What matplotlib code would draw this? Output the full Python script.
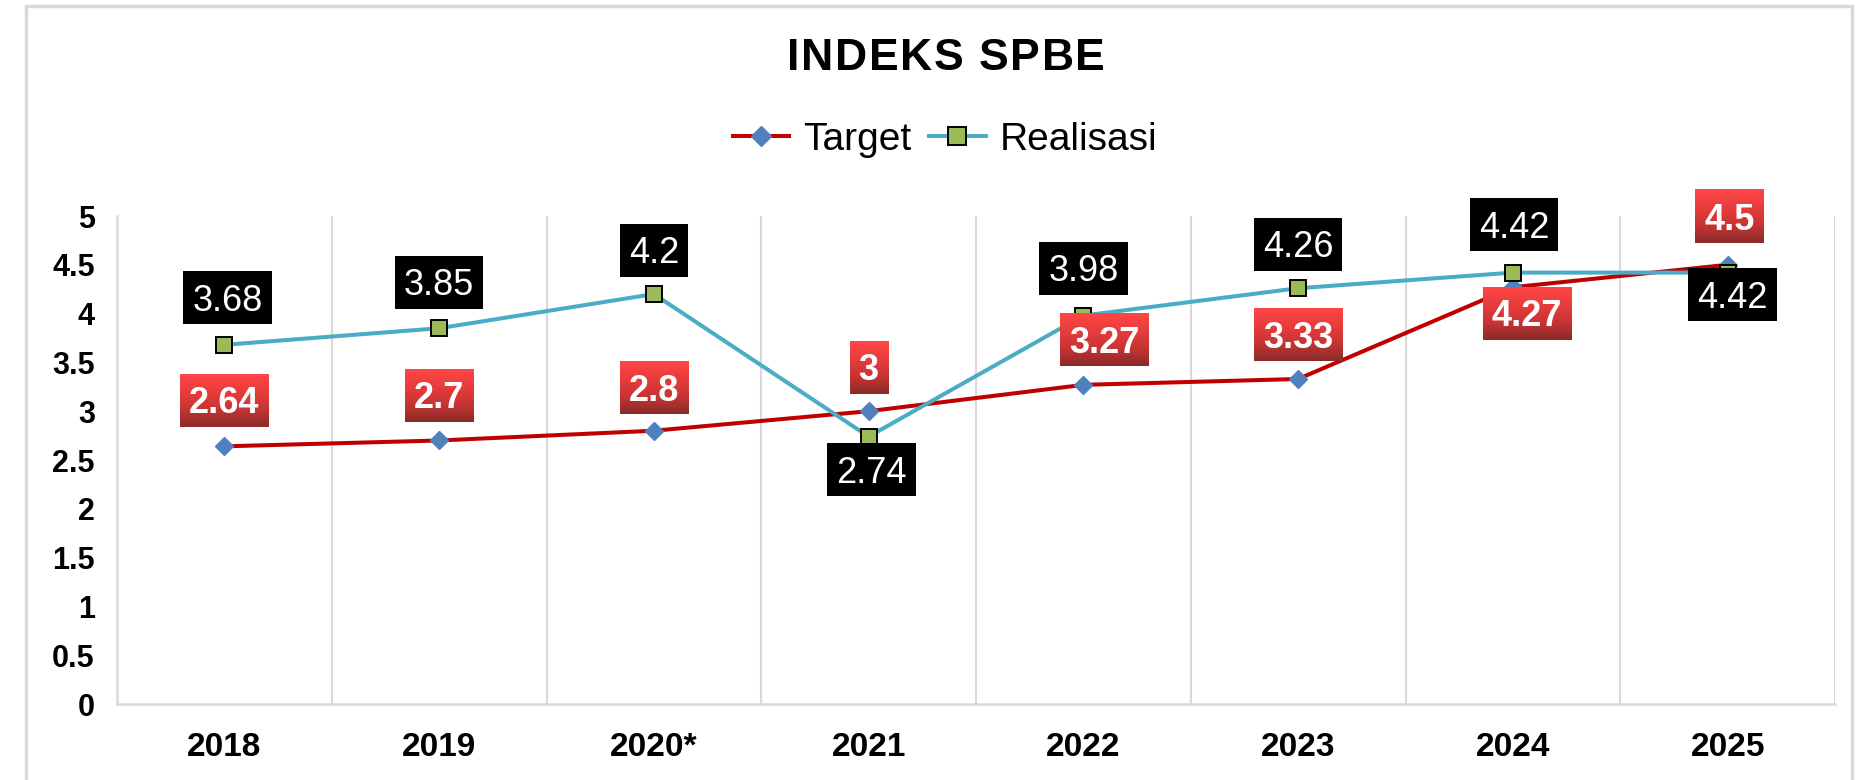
import numpy as np
import matplotlib
matplotlib.use("Agg")
import matplotlib.pyplot as plt
from matplotlib.patches import Rectangle
from matplotlib.colors import LinearSegmentedColormap

plt.rcParams['font.family'] = ['Liberation Sans', 'DejaVu Sans']

# data
years = ['2018', '2019', '2020*', '2021', '2022', '2023', '2024', '2025']
target = [2.64, 2.7, 2.8, 3, 3.27, 3.33, 4.27, 4.5]
realisasi = [3.68, 3.85, 4.2, 2.74, 3.98, 4.26, 4.42, 4.42]
target_text = ['2.64', '2.7', '2.8', '3', '3.27', '3.33', '4.27', '4.5']
realisasi_text = ['3.68', '3.85', '4.2', '2.74', '3.98', '4.26', '4.42', '4.42']

# label offsets from the point, pixels (dx right, dy up)
target_dx = [0, 0, 0, 0, 21, 0, 14, 2]
target_dy = [46, 45, 43, 44, 45, 44, -26, 48]
real_dx = [3, 0, 0, 3, 0, 0, 1, 5]
real_dy = [47, 46, 44, -33, 47, 44, 48, -22]

W, H = 1868, 780
fig = plt.figure(figsize=(W / 100, H / 100), dpi=100)
ax = fig.add_axes([117 / W, 1 - 704 / H, (1835 - 117) / W, (704 - 216) / H])

x = np.arange(len(years))
ax.plot(x, target, color='#C00000', lw=2.9, marker='D', ms=9,
        mfc='#4F81BD', mec='#4F81BD', zorder=3, label='Target')
ax.plot(x, realisasi, color='#4BACC6', lw=2.9, marker='s', ms=11,
        mfc='#9BBB59', mec='black', mew=1.4, zorder=3, label='Realisasi')

ax.set_xlim(-0.5, len(years) - 0.5)
ax.set_ylim(0, 5)
ax.set_autoscale_on(False)
ax.set_yticks(np.arange(0, 5.01, 0.5))
ax.set_yticklabels(['0', '0.5', '1', '1.5', '2', '2.5', '3', '3.5', '4', '4.5', '5'])
ax.set_xticks(x)
ax.set_xticklabels(years)
ax.set_xticks(np.arange(0.5, len(years), 1), minor=True)
ax.grid(True, which='minor', axis='x', color='#D9D9D9', lw=1.5)
ax.tick_params(axis='both', which='both', length=0)
ax.tick_params(axis='x', pad=20, labelsize=24)
ax.tick_params(axis='y', pad=16, labelsize=22)
for t in ax.get_xticklabels() + ax.get_yticklabels():
    t.set_fontweight('bold')
for s in ['top', 'right']:
    ax.spines[s].set_visible(False)
for s in ['left', 'bottom']:
    ax.spines[s].set_color('#D9D9D9')
    ax.spines[s].set_linewidth(1.8)

# legend
fig.legend(loc='center', bbox_to_anchor=(945 / W, 1 - 140 / H), ncol=2,
           frameon=False, fontsize=28, handlelength=1.46, handletextpad=0.36,
           columnspacing=0.45, borderaxespad=0, markerscale=1.15)

# outer frame
fig.add_artist(Rectangle((26 / W, -0.05), (1852 - 26) / W, 1.05 - 6 / H,
                         transform=fig.transFigure, fill=False,
                         ec='#D9D9D9', lw=2.5))

# data labels
fs = 26
fs_px = fs * 100 / 72
labels = []
for i in range(len(years)):
    a = ax.annotate(target_text[i], (x[i], target[i]),
                    xytext=(target_dx[i] * 0.72, (target_dy[i] - 0.358 * fs_px) * 0.72),
                    textcoords='offset points', ha='center', va='baseline',
                    fontsize=fs, fontweight='bold', color='white', zorder=7,
                    annotation_clip=False)
    labels.append((a, x[i], target[i], target_dy[i], 'red'))
    b = ax.annotate(realisasi_text[i], (x[i], realisasi[i]),
                    xytext=(real_dx[i] * 0.72, (real_dy[i] - 0.358 * fs_px) * 0.72),
                    textcoords='offset points', ha='center', va='baseline',
                    fontsize=fs, color='white', zorder=7, annotation_clip=False)
    labels.append((b, x[i], realisasi[i], real_dy[i], 'black'))

fig.canvas.draw()
renderer = fig.canvas.get_renderer()

# title with a little letter spacing
title = 'INDEKS SPBE'
track = 1.6
widths = []
for ch in title:
    t = fig.text(0, 0, ch, fontsize=32, fontweight='bold')
    widths.append(t.get_window_extent(renderer).width)
    t.remove()
total = sum(widths) + track * (len(title) - 1)
xpos = 946 - total / 2
for ch, w in zip(title, widths):
    fig.text(xpos / W, 1 - 70 / H, ch, ha='left', va='baseline',
             fontsize=32, fontweight='bold')
    xpos += w + track

inv = ax.transData.inverted()
red_cmap = LinearSegmentedColormap.from_list(
    'redgrad', ['#FF4646', '#E83C3C', '#C73434', '#8A2B2B'])
grad = np.linspace(0, 1, 64).reshape(-1, 1)

for a, xi, yi, dy, kind in labels:
    bb = a.get_window_extent(renderer)
    px, py = ax.transData.transform((xi, yi))
    cy = py + dy
    x0, y0 = inv.transform((bb.x0 - 9, cy - 26.5))
    x1, y1 = inv.transform((bb.x1 + 9, cy + 26.5))
    if kind == 'red':
        im = ax.imshow(grad, extent=(x0, x1, y0, y1), aspect='auto',
                       cmap=red_cmap, origin='upper', zorder=6,
                       interpolation='bilinear')
        im.set_clip_on(False)
    else:
        r = Rectangle((x0, y0), x1 - x0, y1 - y0, fc='black', ec='none',
                      zorder=6, clip_on=False)
        ax.add_patch(r)

ax.set_xlim(-0.5, len(years) - 0.5)
ax.set_ylim(0, 5)

fig.savefig('out.png', dpi=100)
